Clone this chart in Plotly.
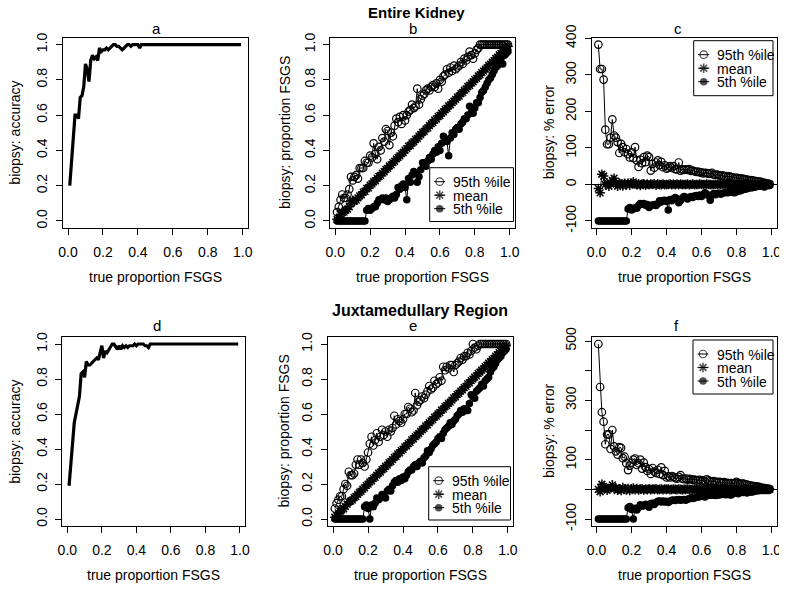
import plotly.graph_objects as go

# The page margin is removed by a post script, so window pixels == figure pixels
OFF = 0
FW, FH = 779, 590
FONT = "Liberation Sans, Arial, Helvetica, sans-serif"

# ---------------- data ----------------
true_prop = [0.01, 0.02, 0.03, 0.04, 0.05, 0.06, 0.07, 0.08, 0.09, 0.10,
             0.11, 0.12, 0.13, 0.14, 0.15, 0.16, 0.17, 0.18, 0.19, 0.20,
             0.21, 0.22, 0.23, 0.24, 0.25, 0.26, 0.27, 0.28, 0.29, 0.30,
             0.31, 0.32, 0.33, 0.34, 0.35, 0.36, 0.37, 0.38, 0.39, 0.40,
             0.41, 0.42, 0.43, 0.44, 0.45, 0.46, 0.47, 0.48, 0.49, 0.50,
             0.51, 0.52, 0.53, 0.54, 0.55, 0.56, 0.57, 0.58, 0.59, 0.60,
             0.61, 0.62, 0.63, 0.64, 0.65, 0.66, 0.67, 0.68, 0.69, 0.70,
             0.71, 0.72, 0.73, 0.74, 0.75, 0.76, 0.77, 0.78, 0.79, 0.80,
             0.81, 0.82, 0.83, 0.84, 0.85, 0.86, 0.87, 0.88, 0.89, 0.90,
             0.91, 0.92, 0.93, 0.94, 0.95, 0.96, 0.97, 0.98, 0.99]

prop_ticks = [0.0, 0.2, 0.4, 0.6, 0.8, 1.0]
prop_tick_labels = ["0.0", "0.2", "0.4", "0.6", "0.8", "1.0"]
err_ticks_c = [-100, 0, 100, 200, 300, 400]
err_tick_labels_c = ["-100", "0", "100", "200", "300", "400"]
err_ticks_f = [-100, 0, 100, 200, 300, 400, 500]
err_tick_labels_f = ["-100", "", "100", "", "300", "", "500"]
acc_limits = [0.0, 1.0]
series_names = ["95th %ile", "mean", "5th %ile"]

# Entire kidney
kidney_accuracy = [0.20, 0.33, 0.47, 0.60, 0.60, 0.58, 0.70, 0.71, 0.76, 0.89,
                   0.86, 0.79, 0.91, 0.94, 0.92, 0.93, 0.91, 0.98, 0.96, 0.97,
                   0.97, 0.98, 0.97, 0.98, 0.99, 1.00, 1.00, 0.99, 0.99, 0.98,
                   0.97, 0.98, 0.99, 1.00, 1.00, 0.99, 1.00, 1.00, 1.00, 1.00,
                   0.98, 1.00, 1.00, 1.00, 1.00, 1.00, 1.00, 1.00, 1.00, 1.00,
                   1.00, 1.00, 1.00, 1.00, 1.00, 1.00, 1.00, 1.00, 1.00, 1.00,
                   1.00, 1.00, 1.00, 1.00, 1.00, 1.00, 1.00, 1.00, 1.00, 1.00,
                   1.00, 1.00, 1.00, 1.00, 1.00, 1.00, 1.00, 1.00, 1.00, 1.00,
                   1.00, 1.00, 1.00, 1.00, 1.00, 1.00, 1.00, 1.00, 1.00, 1.00,
                   1.00, 1.00, 1.00, 1.00, 1.00, 1.00, 1.00, 1.00, 1.00]

kidney_p95 = [0.05, 0.08, 0.12, 0.15, 0.13, 0.13, 0.15, 0.18, 0.25, 0.23,
              0.25, 0.26, 0.24, 0.30, 0.30, 0.30, 0.34, 0.33, 0.33, 0.37,
              0.36, 0.44, 0.38, 0.35, 0.42, 0.40, 0.47, 0.45, 0.52, 0.51,
              0.43, 0.50, 0.48, 0.54, 0.58, 0.56, 0.59, 0.55, 0.60, 0.57,
              0.60, 0.62, 0.63, 0.66, 0.64, 0.65, 0.75, 0.66, 0.69, 0.71,
              0.72, 0.74, 0.75, 0.74, 0.76, 0.77, 0.76, 0.78, 0.75, 0.80,
              0.79, 0.82, 0.83, 0.86, 0.84, 0.87, 0.85, 0.88, 0.86, 0.87,
              0.88, 0.90, 0.89, 0.92, 0.91, 0.93, 0.96, 0.94, 0.92, 0.95,
              0.97, 0.98, 1.00, 1.00, 1.00, 1.00, 1.00, 1.00, 1.00, 1.00,
              1.00, 1.00, 1.00, 1.00, 1.00, 1.00, 1.00, 1.00, 1.00]

kidney_mean = [0.009, 0.015, 0.038, 0.049, 0.050, 0.062, 0.067, 0.080, 0.100, 0.117,
               0.112, 0.118, 0.131, 0.142, 0.148, 0.163, 0.168, 0.184, 0.188, 0.203,
               0.210, 0.222, 0.228, 0.243, 0.252, 0.258, 0.271, 0.279, 0.292, 0.298,
               0.312, 0.318, 0.331, 0.338, 0.352, 0.360, 0.369, 0.382, 0.388, 0.401,
               0.410, 0.424, 0.428, 0.442, 0.448, 0.462, 0.468, 0.481, 0.490, 0.502,
               0.508, 0.522, 0.528, 0.541, 0.552, 0.558, 0.572, 0.578, 0.592, 0.598,
               0.611, 0.618, 0.632, 0.638, 0.652, 0.658, 0.671, 0.679, 0.689, 0.702,
               0.708, 0.722, 0.728, 0.741, 0.749, 0.762, 0.768, 0.781, 0.789, 0.801,
               0.808, 0.822, 0.828, 0.841, 0.849, 0.861, 0.868, 0.881, 0.889, 0.900,
               0.909, 0.921, 0.928, 0.941, 0.949, 0.960, 0.969, 0.980, 0.990]

kidney_p5 = [0.00, 0.00, 0.00, 0.00, 0.00, 0.00, 0.00, 0.00, 0.00, 0.00,
             0.00, 0.00, 0.00, 0.00, 0.00, 0.00, 0.00, 0.06, 0.07, 0.06,
             0.07, 0.08, 0.08, 0.10, 0.12, 0.12, 0.13, 0.12, 0.13, 0.11,
             0.12, 0.13, 0.14, 0.13, 0.15, 0.19, 0.18, 0.20, 0.21, 0.19,
             0.12, 0.24, 0.22, 0.26, 0.28, 0.27, 0.22, 0.25, 0.29, 0.33,
             0.33, 0.31, 0.34, 0.36, 0.35, 0.38, 0.40, 0.39, 0.42, 0.40,
             0.44, 0.48, 0.46, 0.45, 0.37, 0.47, 0.50, 0.49, 0.52, 0.53,
             0.52, 0.55, 0.56, 0.58, 0.58, 0.60, 0.65, 0.61, 0.61, 0.64,
             0.67, 0.67, 0.70, 0.73, 0.74, 0.76, 0.78, 0.80, 0.81, 0.83,
             0.85, 0.87, 0.88, 0.90, 0.92, 0.89, 0.94, 0.95, 0.96]

kidney_err95 = [383, 316, 316, 287, 150, 110, 110, 128, 178, 134,
                128, 116, 86, 111, 102, 88, 97, 83, 74, 88,
                72, 102, 66, 48, 68, 58, 75, 61, 79, 75,
                38, 56, 46, 60, 66, 53, 62, 47, 52, 43,
                46, 50, 45, 50, 42, 41, 60, 38, 41, 40,
                41, 40, 42, 37, 38, 36, 34, 35, 33, 33,
                30, 32, 31, 29, 30, 32, 27, 26, 27, 25,
                24, 25, 22, 23, 21, 22, 20, 19, 18, 18,
                17, 16, 16, 15, 14, 13, 12, 12, 11, 10,
                9, 8, 8, 7, 5, 4, 3, 2, 1]

kidney_err_mean = [-11, -23, 28, 23, 0, 4, -5, 1, 11, 17,
                   3, -5, 4, 2, -4, 3, -2, 4, -2, 3,
                   7, 1, -1, 2, -3, 1, 2, -2, 1, -1,
                   1, 0, 2, -2, 1, 0, -1, 1, -1, 0,
                   0, 1, -1, 1, -1, 1, -1, 1, 0, 0,
                   0, 1, -1, 0, 1, -1, 0, 0, 1, 0,
                   0, 0, 1, 0, 0, -1, 0, 0, 0, 0,
                   0, 1, 0, 0, -1, 0, 0, 0, 0, 0,
                   0, 0, 0, 0, 0, 0, -1, 0, 0, 0,
                   0, 0, 0, 0, 0, 0, 0, 0, 0]

kidney_err5 = [-100, -100, -100, -100, -100, -100, -100, -100, -100, -100,
               -100, -100, -100, -100, -100, -100, -100, -67, -63, -70,
               -67, -64, -65, -58, -52, -54, -52, -57, -55, -63,
               -58, -56, -55, -58, -53, -45, -48, -44, -43, -47,
               -70, -41, -45, -39, -36, -39, -50, -44, -38, -33,
               -35, -40, -36, -33, -36, -32, -30, -33, -29, -33,
               -28, -23, -27, -30, -43, -29, -25, -28, -25, -24,
               -27, -24, -23, -22, -23, -21, -16, -22, -23, -20,
               -17, -18, -16, -13, -13, -12, -10, -9, -9, -8,
               -7, -5, -5, -4, -3, -7, -3, -3, -3]

# Juxtamedullary region
juxta_accuracy = [0.19, 0.31, 0.43, 0.55, 0.60, 0.65, 0.70, 0.83, 0.84, 0.81,
                  0.90, 0.88, 0.88, 0.89, 0.90, 0.91, 0.92, 0.91, 0.96, 0.99,
                  0.92, 0.96, 0.95, 0.97, 0.99, 1.00, 1.00, 0.98, 0.97, 0.99,
                  0.97, 0.99, 0.98, 0.99, 0.98, 0.99, 0.99, 0.99, 1.00, 0.99,
                  1.00, 1.00, 1.00, 1.00, 0.99, 0.99, 0.98, 1.00, 1.00, 1.00,
                  1.00, 1.00, 1.00, 1.00, 1.00, 1.00, 1.00, 1.00, 1.00, 1.00,
                  1.00, 1.00, 1.00, 1.00, 1.00, 1.00, 1.00, 1.00, 1.00, 1.00,
                  1.00, 1.00, 1.00, 1.00, 1.00, 1.00, 1.00, 1.00, 1.00, 1.00,
                  1.00, 1.00, 1.00, 1.00, 1.00, 1.00, 1.00, 1.00, 1.00, 1.00,
                  1.00, 1.00, 1.00, 1.00, 1.00, 1.00, 1.00, 1.00, 1.00]

juxta_p95 = [0.06, 0.09, 0.11, 0.13, 0.13, 0.17, 0.20, 0.19, 0.27, 0.25,
             0.25, 0.26, 0.31, 0.34, 0.31, 0.34, 0.32, 0.30, 0.34, 0.38,
             0.43, 0.47, 0.42, 0.45, 0.49, 0.44, 0.47, 0.51, 0.48, 0.50,
             0.47, 0.51, 0.50, 0.52, 0.59, 0.54, 0.57, 0.56, 0.55, 0.57,
             0.60, 0.60, 0.64, 0.63, 0.61, 0.62, 0.72, 0.65, 0.67, 0.68,
             0.70, 0.69, 0.71, 0.73, 0.76, 0.74, 0.75, 0.79, 0.77, 0.78,
             0.81, 0.79, 0.87, 0.85, 0.87, 0.86, 0.88, 0.88, 0.84, 0.88,
             0.89, 0.90, 0.92, 0.91, 0.93, 0.93, 0.95, 0.94, 0.96, 1.00,
             0.98, 0.97, 0.99, 1.00, 1.00, 1.00, 1.00, 1.00, 1.00, 1.00,
             1.00, 1.00, 1.00, 1.00, 1.00, 1.00, 1.00, 1.00, 1.00]

juxta_mean = [0.010, 0.020, 0.035, 0.044, 0.052, 0.058, 0.072, 0.085, 0.098, 0.102,
              0.108, 0.122, 0.128, 0.141, 0.152, 0.158, 0.171, 0.178, 0.192, 0.199,
              0.212, 0.218, 0.232, 0.238, 0.251, 0.262, 0.268, 0.282, 0.288, 0.301,
              0.308, 0.322, 0.328, 0.339, 0.352, 0.358, 0.372, 0.378, 0.391, 0.398,
              0.412, 0.418, 0.431, 0.438, 0.452, 0.458, 0.471, 0.479, 0.488, 0.501,
              0.511, 0.518, 0.532, 0.538, 0.551, 0.561, 0.568, 0.582, 0.588, 0.601,
              0.608, 0.622, 0.628, 0.642, 0.648, 0.661, 0.668, 0.679, 0.692, 0.698,
              0.712, 0.718, 0.731, 0.738, 0.751, 0.758, 0.772, 0.778, 0.791, 0.799,
              0.811, 0.818, 0.832, 0.839, 0.851, 0.858, 0.871, 0.879, 0.891, 0.899,
              0.911, 0.918, 0.931, 0.939, 0.951, 0.958, 0.971, 0.979, 0.991]

juxta_p5 = [0.00, 0.00, 0.00, 0.00, 0.00, 0.00, 0.00, 0.00, 0.00, 0.00,
            0.00, 0.00, 0.00, 0.00, 0.00, 0.00, 0.00, 0.07, 0.08, 0.06,
            0.00, 0.08, 0.07, 0.09, 0.12, 0.11, 0.12, 0.14, 0.13, 0.12,
            0.16, 0.17, 0.16, 0.19, 0.21, 0.22, 0.21, 0.23, 0.22, 0.24,
            0.23, 0.25, 0.27, 0.28, 0.28, 0.30, 0.31, 0.30, 0.32, 0.33,
            0.32, 0.35, 0.36, 0.39, 0.38, 0.40, 0.42, 0.43, 0.44, 0.46,
            0.47, 0.46, 0.49, 0.51, 0.52, 0.53, 0.55, 0.54, 0.56, 0.57,
            0.59, 0.60, 0.62, 0.61, 0.63, 0.62, 0.62, 0.66, 0.71, 0.70,
            0.69, 0.73, 0.74, 0.75, 0.77, 0.76, 0.79, 0.80, 0.81, 0.84,
            0.86, 0.87, 0.89, 0.91, 0.92, 0.93, 0.95, 0.96, 0.97]

juxta_err95 = [490, 345, 260, 228, 152, 185, 185, 136, 200, 145,
               128, 117, 142, 140, 105, 110, 88, 65, 80, 90,
               100, 104, 82, 88, 100, 70, 90, 75, 62, 68,
               52, 72, 60, 55, 66, 52, 74, 48, 62, 40,
               44, 40, 45, 42, 38, 36, 42, 48, 36, 34,
               36, 33, 35, 34, 32, 33, 30, 31, 32, 28,
               30, 27, 34, 30, 28, 26, 28, 26, 22, 25,
               24, 22, 24, 21, 22, 20, 21, 19, 20, 25,
               21, 18, 19, 19, 17, 16, 14, 13, 12, 11,
               10, 9, 8, 6, 5, 4, 3, 2, 1]

juxta_err_mean = [0, -8, 17, 10, 4, -3, 3, 6, 15, 2,
                  5, -3, 2, -4, 6, 1, -2, 3, -4, 2,
                  4, -1, 3, -2, 1, 2, -2, 1, -1, 2,
                  -1, 1, 0, 2, -1, 0, 1, -1, 1, 0,
                  1, -1, 0, 1, 0, -1, 1, 0, -1, 0,
                  0, 1, 0, -1, 0, 1, 0, 0, -1, 0,
                  0, 1, 0, 0, -1, 0, 0, 1, 0, 0,
                  0, 0, 1, 0, 0, -1, 0, 0, 0, 0,
                  0, 0, 0, 0, 0, 0, 0, 0, 0, 0,
                  0, 0, 0, 0, 0, 0, 0, 0, 0]

juxta_err5 = [-100, -100, -100, -100, -100, -100, -100, -100, -100, -100,
              -100, -100, -100, -100, -100, -100, -100, -62, -58, -68,
              -100, -64, -70, -62, -52, -57, -55, -50, -55, -60,
              -48, -47, -51, -44, -40, -39, -43, -39, -43, -40,
              -44, -40, -37, -36, -38, -35, -34, -37, -35, -34,
              -37, -33, -32, -28, -31, -29, -26, -26, -25, -23,
              -23, -26, -22, -20, -20, -20, -18, -21, -19, -19,
              -17, -17, -15, -18, -16, -18, -19, -15, -10, -12,
              -15, -11, -11, -11, -9, -12, -9, -9, -9, -7,
              -5, -5, -4, -3, -3, -3, -2, -2, -2]

# ---------------- helpers (window pixels -> paper fractions) ----------------
def px(x):
    return (x - OFF) / FW


def py(y):
    return 1 - (y - OFF) / FH


def xdom(l, r):
    return [px(l), px(r)]


def ydom(t, b):
    return [py(b), py(t)]


def padded(lo, hi):
    p = 0.04 * (hi - lo)
    return [lo - p, hi + p]


styles = [
    dict(symbol="circle-open", size=7.5, color="black", line=dict(color="black", width=1.2)),
    dict(symbol="asterisk-open", size=8, color="black", line=dict(color="black", width=1.5)),
    dict(symbol="circle", size=7.5, color="black", line=dict(color="black", width=0)),
]

panels = [
    dict(n=1, box=(62.9, 247.9, 37.5, 228.0), letter="a", lxy=(156.7, 28.5),
         ytitle="biopsy: accuracy", series=[kidney_accuracy], kind="acc",
         yt=(prop_ticks, prop_tick_labels)),
    dict(n=2, box=(330.2, 514.8, 37.5, 228.0), letter="b", lxy=(412.7, 28.5),
         ytitle="biopsy: proportion FSGS", series=[kidney_p95, kidney_mean, kidney_p5],
         kind="pct", yt=(prop_ticks, prop_tick_labels), legend=(429.7, 513.5, 167.7, 221.5)),
    dict(n=3, box=(591.5, 776.5, 37.5, 228.0), letter="c", lxy=(678.3, 28.5),
         ytitle="biopsy: % error", series=[kidney_err95, kidney_err_mean, kidney_err5],
         kind="err", yt=(err_ticks_c, err_tick_labels_c), legend=(693.7, 773.0, 40.7, 95.7)),
    dict(n=4, box=(62.3, 245.0, 337.0, 526.0), letter="d", lxy=(156.7, 326.0),
         ytitle="biopsy: accuracy", series=[juxta_accuracy], kind="acc",
         yt=(prop_ticks, prop_tick_labels)),
    dict(n=5, box=(328.0, 513.0, 337.0, 526.0), letter="e", lxy=(412.7, 326.0),
         ytitle="biopsy: proportion FSGS", series=[juxta_p95, juxta_mean, juxta_p5],
         kind="pct", yt=(prop_ticks, prop_tick_labels), legend=(428.7, 510.5, 466.7, 520.0)),
    dict(n=6, box=(591.5, 776.5, 337.0, 526.0), letter="f", lxy=(676.7, 325.0),
         ytitle="biopsy: % error", series=[juxta_err95, juxta_err_mean, juxta_err5],
         kind="err", yt=(err_ticks_f, err_tick_labels_f), legend=(693.0, 773.0, 340.0, 394.0)),
]

fig = go.Figure()
annotations = []
x_range = padded(min(true_prop), max(true_prop))
tickfont = dict(family=FONT, size=14, color="black")

for p in panels:
    n = p["n"]
    sfx = "" if n == 1 else str(n)
    l, r, t, b = p["box"]
    if p["kind"] == "acc":
        y_range = padded(acc_limits[0], acc_limits[1])
    else:
        allv = [v for s in p["series"] for v in s]
        y_range = padded(min(allv), max(allv))

    common = dict(showline=True, linecolor="black", linewidth=1, mirror=True,
                  ticks="outside", ticklen=6, tickwidth=1, tickcolor="black",
                  showgrid=False, tickfont=tickfont, fixedrange=True, automargin=False,
                  ticklabeloverflow="allow")
    fig.layout["xaxis" + sfx] = dict(
        domain=xdom(l, r), range=x_range, anchor="y" + sfx,
        tickmode="array", tickvals=prop_ticks, ticktext=prop_tick_labels,
        zeroline=False, ticklabelstandoff=5, **common)
    fig.layout["yaxis" + sfx] = dict(
        domain=ydom(t, b), range=y_range, anchor="x" + sfx,
        tickmode="array", tickvals=p["yt"][0], ticktext=p["yt"][1],
        tickangle=-90, ticklabelstandoff=3,
        zeroline=(p["kind"] == "err"), zerolinecolor="black", zerolinewidth=1,
        **common)

    if p["kind"] == "acc":
        fig.add_trace(go.Scatter(x=true_prop, y=p["series"][0], mode="lines",
                                 line=dict(color="black", width=3.2),
                                 xaxis="x" + sfx, yaxis="y" + sfx,
                                 showlegend=False, hoverinfo="skip"))
    else:
        for s, st, nm in zip(p["series"], styles, series_names):
            fig.add_trace(go.Scatter(x=true_prop, y=s, mode="lines+markers",
                                     name=nm, line=dict(color="black", width=1),
                                     marker=st, xaxis="x" + sfx, yaxis="y" + sfx,
                                     showlegend=False, hoverinfo="skip"))

    annotations.append(dict(text=p["letter"], x=px(p["lxy"][0]), y=py(p["lxy"][1]),
                            xref="paper", yref="paper", showarrow=False,
                            xanchor="center", yanchor="middle",
                            font=dict(family=FONT, size=15, color="black")))
    cx = (l + r) / 2
    cy = (t + b) / 2
    xt_y = 277 if t < 300 else 575
    annotations.append(dict(text="true proportion FSGS", x=px(cx), y=py(xt_y),
                            xref="paper", yref="paper", showarrow=False,
                            xanchor="center", yanchor="middle",
                            font=dict(family=FONT, size=14, color="black")))
    yt_x = l - 48 if n in (1, 4) else l - 45 if n in (2, 5) else l - 43
    annotations.append(dict(text=p["ytitle"], x=px(yt_x), y=py(cy), textangle=-90,
                            xref="paper", yref="paper", showarrow=False,
                            xanchor="center", yanchor="middle",
                            font=dict(family=FONT, size=14, color="black")))

# overlay axes in window-pixel units, used only for the legend boxes
fig.layout["xaxis7"] = dict(domain=[0, 1], range=[OFF, OFF + FW], anchor="y7", visible=False,
                            fixedrange=True, automargin=False)
fig.layout["yaxis7"] = dict(domain=[0, 1], range=[OFF + FH, OFF], anchor="x7", visible=False,
                            fixedrange=True, automargin=False)

for p in panels:
    if "legend" not in p:
        continue
    L, R, T, B = p["legend"]
    fig.add_trace(go.Scatter(x=[L, R, R, L, L], y=[T, T, B, B, T], mode="lines",
                             fill="toself", fillcolor="white",
                             line=dict(color="black", width=1),
                             xaxis="x7", yaxis="y7", showlegend=False, hoverinfo="skip"))
    for i, (st, nm) in enumerate(zip(styles, series_names)):
        yy = T + 14 + 13.5 * i
        mk = dict(st)
        mk["size"] = [0, st["size"], 0]
        fig.add_trace(go.Scatter(x=[L + 4.5, L + 10, L + 15.5], y=[yy, yy, yy],
                                 mode="lines+markers", line=dict(color="black", width=1),
                                 marker=mk, xaxis="x7", yaxis="y7",
                                 showlegend=False, hoverinfo="skip", cliponaxis=False))
        annotations.append(dict(text=nm, x=px(L + 21.5), y=py(yy), xref="paper", yref="paper",
                                showarrow=False, xanchor="left", yanchor="middle",
                                height=13, font=dict(family=FONT, size=14, color="black")))

annotations.append(dict(text="<b>Entire Kidney</b>", x=px(416), y=py(12.7),
                        xref="paper", yref="paper", showarrow=False,
                        xanchor="center", yanchor="middle",
                        font=dict(family=FONT, size=15, color="black")))
annotations.append(dict(text="<b>Juxtamedullary Region</b>", x=px(420), y=py(310),
                        xref="paper", yref="paper", showarrow=False,
                        xanchor="center", yanchor="middle",
                        font=dict(family=FONT, size=16, color="black")))

fig.update_layout(template="none", width=FW, height=FH, autosize=False,
                  margin=dict(l=0, r=0, t=0, b=0, pad=0),
                  paper_bgcolor="white", plot_bgcolor="rgba(0,0,0,0)",
                  showlegend=False, annotations=annotations,
                  font=dict(family=FONT, color="black"))

fig.write_html("out.html",
               config={"displayModeBar": False, "staticPlot": True},
               post_script="document.body.style.margin='0';"
                           "document.body.style.overflow='hidden';"
                           "document.documentElement.style.overflow='hidden';")
